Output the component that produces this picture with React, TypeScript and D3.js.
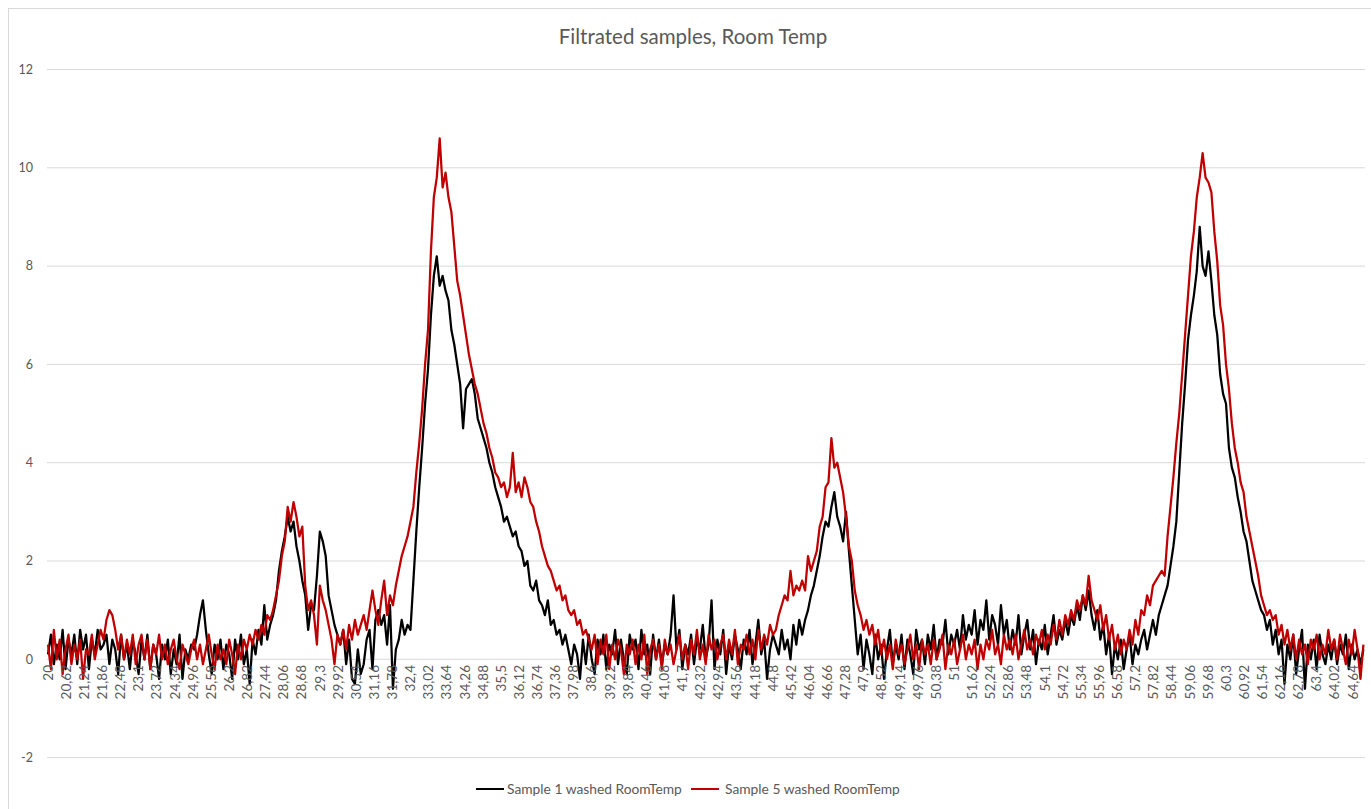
import React from "react";
import * as d3 from "d3";

const xStart = 20;
const xStep = 0.1;

// Sample 1 washed RoomTemp (one row per unit of x, 20.0 .. 65.0)
const sample1: number[] = [
  0.1, 0.5, -0.1, 0.3, 0.0, 0.6, -0.2, 0.4, 0.1, 0.5,
  -0.1, 0.6, 0.2, 0.5, -0.2, 0.4, 0.1, 0.6, 0.2, 0.3,
  0.5, -0.1, 0.4, 0.2, -0.3, 0.5, 0.0, 0.3, -0.2, 0.4,
  0.1, -0.3, 0.4, 0.0, 0.5, -0.2, 0.3, 0.1, -0.4, 0.3,
  0.0, 0.4, -0.3, 0.2, -0.1, 0.5, -0.4, 0.2, 0.0, 0.3,
  0.2, 0.5, 0.9, 1.2, 0.6, 0.1, -0.3, 0.3, 0.0, 0.4,
  -0.2, 0.3, 0.1, -0.4, 0.4, 0.0, 0.5, -0.1, 0.2, -0.5,
  0.4, 0.1, 0.6, 0.3, 1.1, 0.4, 0.7, 0.9, 1.2, 1.8,
  2.2, 2.5, 2.9, 2.6, 2.8, 2.3, 2.0, 1.6, 1.3, 0.6,
  1.1, 1.0, 1.7, 2.6, 2.4, 2.1, 1.3, 1.0, 0.7, 0.5,
  0.3, 0.6, -0.1, 0.4, -0.4, -0.5, 0.2, -0.3, -0.1, 0.4,
  0.6, -0.2, 0.8, 1.0, 0.7, 0.9, 0.3, 1.1, -0.6, 0.2,
  0.4, 0.8, 0.5, 0.7, 0.6, 1.6, 2.6, 3.5, 4.3, 5.2,
  5.9, 7.0, 7.8, 8.2, 7.6, 7.8, 7.5, 7.3, 6.7, 6.4,
  6.0, 5.6, 4.7, 5.5, 5.6, 5.7, 5.4, 4.9, 4.7, 4.5,
  4.3, 4.0, 3.8, 3.5, 3.3, 3.1, 2.8, 2.9, 2.7, 2.5,
  2.6, 2.3, 2.2, 1.9, 2.0, 1.5, 1.4, 1.6, 1.2, 1.1,
  0.9, 1.2, 0.7, 0.8, 0.5, 0.6, 0.3, 0.5, 0.2, -0.1,
  0.3, 0.1, -0.4, 0.4, -0.1, 0.5, 0.0, -0.3, 0.4, 0.1,
  0.5, -0.2, 0.3, 0.1, 0.6, -0.1, 0.4, 0.0, -0.3, 0.5,
  0.2, 0.4, -0.2, 0.6, 0.1, 0.3, -0.3, 0.5, 0.0, 0.4,
  -0.1, 0.3, 0.1, 0.5, 1.3, 0.2, 0.6, -0.2, 0.3, 0.1,
  0.5, -0.1, 0.4, 0.2, 0.7, 0.0, 0.3, 1.2, -0.2, 0.4,
  0.1, 0.6, -0.3, 0.3, 0.0, 0.5, 0.2, -0.2, 0.4, 0.1,
  0.6, -0.1, 0.3, 0.8, 0.1, 0.4, -0.4, 0.2, 0.5, 0.3,
  0.1, 0.6, 0.2, 0.4, 0.0, 0.7, 0.3, 0.8, 0.5, 0.8,
  1.0, 1.3, 1.5, 1.8, 2.1, 2.5, 2.8, 2.7, 3.1, 3.4,
  2.9, 2.7, 2.4, 3.0, 2.2, 1.5, 0.8, 0.1, 0.5, -0.2,
  0.4, 0.1, -0.3, 0.5, 0.0, 0.3, -0.4, 0.2, 0.6, -0.1,
  0.3, 0.0, 0.5, -0.2, 0.4, 0.1, -0.3, 0.6, 0.2, 0.4,
  -0.1, 0.5, 0.2, 0.7, 0.0, 0.4, 0.3, 0.8, 0.1, 0.5,
  0.3, 0.6, 0.2, 0.9, 0.4, 0.7, 0.5, 1.0, 0.3, 0.8,
  0.6, 1.2, 0.4, 0.9, 0.7, 0.3, 1.1, 0.5, 0.8, 0.2,
  0.6, 0.3, 0.9, 0.1, 0.5, 0.8, 0.2, 0.6, -0.1, 0.4,
  0.2, 0.7, 0.1, 0.5, 0.9, 0.3, 0.6, 0.4, 0.8, 0.5,
  0.9, 0.7, 1.1, 0.8, 1.3, 1.0, 1.4, 0.9, 0.6, 1.0,
  0.4, 0.7, 0.1, 0.5, -0.3, 0.3, 0.0, 0.4, -0.2, 0.2,
  0.5, -0.1, 0.3, 0.1, 0.4, 0.6, 0.2, 0.5, 0.8, 0.5,
  0.9, 1.1, 1.3, 1.5, 1.9, 2.3, 2.8, 3.8, 4.8, 5.6,
  6.5, 7.0, 7.4, 7.9, 8.8, 8.0, 7.8, 8.3, 7.7, 7.0,
  6.6, 5.8, 5.4, 5.2, 4.3, 3.9, 3.7, 3.3, 3.0, 2.6,
  2.4, 2.0, 1.6, 1.4, 1.2, 1.0, 0.9, 0.6, 0.8, 0.3,
  0.6, 0.1, 0.4, -0.5, 0.3, 0.0, 0.5, -0.3, 0.2, 0.6,
  -0.6, 0.3, 0.0, 0.4, -0.2, 0.5, 0.1, -0.1, 0.3, 0.0,
  0.4, -0.1, 0.3, 0.1, 0.5, -0.2, 0.3, 0.0, 0.2, -0.1,
  0.2,
];

// Sample 5 washed RoomTemp
const sample5: number[] = [
  0.3, -0.2, 0.6, 0.0, 0.4, -0.3, 0.2, 0.5, -0.1, 0.3,
  0.0, 0.4, -0.4, 0.2, 0.1, 0.5, 0.0, 0.3, 0.6, 0.4,
  0.8, 1.0, 0.9, 0.6, 0.2, 0.5, 0.0, 0.4, 0.1, 0.5,
  -0.1, 0.3, 0.5, 0.0, 0.4, -0.2, 0.3, 0.1, 0.5, 0.0,
  0.3, -0.1, 0.2, 0.4, 0.0, -0.2, 0.3, 0.1, -0.1, 0.2,
  0.4, 0.0, 0.3, -0.1, 0.2, 0.5, 0.1, -0.2, 0.3, 0.0,
  0.2, -0.1, 0.4, 0.1, -0.3, 0.3, 0.0, 0.4, 0.2, 0.5,
  0.3, 0.6, 0.4, 0.7, 0.5, 0.9, 0.8, 1.0, 1.3, 1.6,
  2.1, 2.4, 3.1, 2.8, 3.2, 2.9, 2.5, 2.7, 1.5, 1.0,
  1.2, 0.9, 0.3, 1.5, 1.2, 1.0, 0.7, 0.4, -0.1, 0.5,
  0.3, 0.6, 0.2, 0.7, 0.4, 0.8, 0.5, 0.7, 0.9, 0.6,
  1.0, 1.4, 1.0, 0.7, 1.2, 1.6, 0.9, 1.3, 1.1, 1.5,
  1.8, 2.1, 2.3, 2.5, 2.8, 3.1, 3.8, 4.4, 5.1, 6.0,
  6.7, 8.3, 9.4, 9.8, 10.6, 9.6, 9.9, 9.4, 9.1, 8.4,
  7.7, 7.4, 7.0, 6.6, 6.2, 5.9, 5.6, 5.4, 5.1, 4.8,
  4.6, 4.3, 4.1, 3.8, 3.7, 3.5, 3.6, 3.3, 3.5, 4.2,
  3.4, 3.6, 3.3, 3.7, 3.5, 3.2, 3.1, 2.8, 2.6, 2.3,
  2.1, 1.9, 1.8, 1.6, 1.4, 1.5, 1.2, 1.3, 1.0, 0.9,
  1.0, 0.7, 0.8, 0.5, 0.6, 0.4, 0.2, 0.5, -0.1, 0.4,
  0.1, 0.5, -0.2, 0.3, 0.0, 0.4, 0.2, -0.3, 0.3, 0.1,
  0.4, -0.1, 0.3, 0.0, 0.5, -0.3, 0.2, 0.4, 0.0, 0.3,
  -0.2, 0.4, 0.1, 0.3, -0.1, 0.2, 0.5, 0.0, 0.3, -0.2,
  0.4, 0.1, 0.6, 0.0, 0.3, -0.1, 0.5, 0.2, 0.4, 0.0,
  0.3, 0.5, 0.0, 0.4, 0.1, 0.6, -0.1, 0.3, 0.2, 0.5,
  0.1, 0.4, 0.0, 0.6, 0.2, 0.5, 0.3, 0.7, 0.5, 0.6,
  0.9, 1.1, 1.3, 1.2, 1.8, 1.3, 1.5, 1.4, 1.6, 1.4,
  2.1, 1.8, 2.0, 2.2, 2.7, 2.9, 3.5, 3.6, 4.5, 3.9,
  4.0, 3.7, 3.4, 2.9, 2.3, 2.0, 1.4, 1.1, 0.9, 0.6,
  0.8, 0.5, 0.7, 0.3, 0.6, 0.1, 0.4, 0.0, 0.3, -0.2,
  0.4, 0.1, 0.3, -0.1, 0.2, 0.5, 0.0, 0.3, -0.2, 0.4,
  0.1, 0.3, -0.1, 0.4, 0.0, 0.2, 0.5, -0.2, 0.3, 0.1,
  0.4, -0.1, 0.2, 0.5, 0.0, 0.3, 0.1, 0.4, -0.2, 0.3,
  0.0, 0.4, 0.2, 0.6, 0.1, 0.3, -0.1, 0.5, 0.2, 0.4,
  0.1, 0.5, 0.0, 0.3, 0.6, 0.2, 0.4, 0.1, 0.5, 0.3,
  0.6, 0.2, 0.5, 0.3, 0.7, 0.4, 0.8, 0.5, 0.9, 0.7,
  1.0, 0.8, 1.2, 1.0, 1.3, 1.1, 1.7, 1.2, 1.0, 0.8,
  1.1, 0.6, 0.9, 0.4, 0.7, 0.2, 0.5, 0.1, 0.4, 0.2,
  0.6, 0.3, 0.8, 0.5, 1.0, 0.9, 1.3, 1.1, 1.5, 1.6,
  1.7, 1.8, 1.7, 2.5, 3.1, 3.7, 4.4, 5.0, 5.8, 6.6,
  7.4, 8.2, 8.7, 9.4, 9.8, 10.3, 9.8, 9.7, 9.5, 8.7,
  8.1, 7.2, 6.8, 6.0, 5.5, 4.8, 4.3, 4.0, 3.6, 3.4,
  2.9, 2.6, 2.3, 2.0, 1.7, 1.3, 1.1, 0.9, 1.0, 0.8,
  0.9, 0.5, 0.7, 0.3, 0.6, 0.2, 0.5, 0.0, 0.4, 0.1,
  0.3, -0.1, 0.4, 0.2, 0.5, 0.0, 0.3, 0.1, 0.6, 0.2,
  0.4, 0.0, 0.5, 0.2, -0.1, 0.4, 0.1, 0.6, 0.2, -0.4,
  0.3,
];

const xTickLabels: string[] = [
  "20", "20,62", "21,24", "21,86", "22,48", "23,1", "23,72", "24,34", "24,96", "25,58",
  "26,2", "26,82", "27,44", "28,06", "28,68", "29,3", "29,92", "30,54", "31,16", "31,78",
  "32,4", "33,02", "33,64", "34,26", "34,88", "35,5", "36,12", "36,74", "37,36", "37,98",
  "38,6", "39,22", "39,84", "40,46", "41,08", "41,7", "42,32", "42,94", "43,56", "44,18",
  "44,8", "45,42", "46,04", "46,66", "47,28", "47,9", "48,52", "49,14", "49,76", "50,38",
  "51", "51,62", "52,24", "52,86", "53,48", "54,1", "54,72", "55,34", "55,96", "56,58",
  "57,2", "57,82", "58,44", "59,06", "59,68", "60,3", "60,92", "61,54", "62,16", "62,78",
  "63,4", "64,02", "64,64",
];

const yTicks: number[] = [-2, 0, 2, 4, 6, 8, 10, 12];
const seriesNames: string[] = ["Sample 1 washed RoomTemp", "Sample 5 washed RoomTemp"];
const seriesColors: string[] = ["#000000", "#C00000"];
const title = "Filtrated samples, Room Temp";

const FONT = "Lato, 'Open Sans', sans-serif";
const TEXT = "#595959";

export default function App() {
  const W = 1371;
  const H = 809;
  const left = 47;
  const right = 1365;
  const x = d3.scaleLinear().domain([20, 65]).range([48, 1363.4]);
  const y = d3.scaleLinear().domain([-2, 12]).range([757.6, 69.5]);

  const line = d3
    .line<number>()
    .x((_, i) => x(xStart + i * xStep))
    .y((d) => y(d));

  const series = [sample1, sample5];

  const legendItems = [
    { lx: 476, tx: 507 },
    { lx: 691, tx: 725 },
  ];

  return (
    <svg
      width={W}
      height={H}
      style={{ position: "absolute", left: 0, top: 0, background: "#fff" }}
    >
      <rect x={8.5} y={8.5} width={1370} height={810} fill="#fff" stroke="#d9d9d9" />
      <text
        x={693}
        y={44}
        textAnchor="middle"
        fontFamily={FONT}
        fontSize={20.5}
        fill={TEXT}
      >
        {title}
      </text>

      {yTicks.map((t) => (
        <g key={t}>
          <line x1={left} x2={right} y1={y(t)} y2={y(t)} stroke="#d9d9d9" strokeWidth={1} />
          <text
            x={33}
            y={y(t)}
            dy="0.35em"
            textAnchor="end"
            fontFamily={FONT}
            fontSize={12.5}
            fill={TEXT}
          >
            {t}
          </text>
        </g>
      ))}

      {series.map((s, k) => (
        <path
          key={k}
          d={line(s) || ""}
          fill="none"
          stroke={seriesColors[k]}
          strokeWidth={2.25}
          strokeLinejoin="round"
        />
      ))}

      {xTickLabels.map((lab) => {
        const v = parseFloat(lab.replace(",", "."));
        const px = x(v);
        return (
          <text
            key={lab}
            transform={`translate(${px},${665}) rotate(-90)`}
            textAnchor="end"
            dy="0.35em"
            fontFamily={FONT}
            fontSize={13.5}
            fill={TEXT}
          >
            {lab}
          </text>
        );
      })}

      {seriesNames.map((name, k) => (
        <g key={name}>
          <line
            x1={legendItems[k].lx}
            x2={legendItems[k].lx + 28}
            y1={789}
            y2={789}
            stroke={seriesColors[k]}
            strokeWidth={2}
          />
          <text
            x={legendItems[k].tx}
            y={789}
            dy="0.35em"
            fontFamily={FONT}
            fontSize={13.8}
            fill={TEXT}
          >
            {name}
          </text>
        </g>
      ))}
    </svg>
  );
}
